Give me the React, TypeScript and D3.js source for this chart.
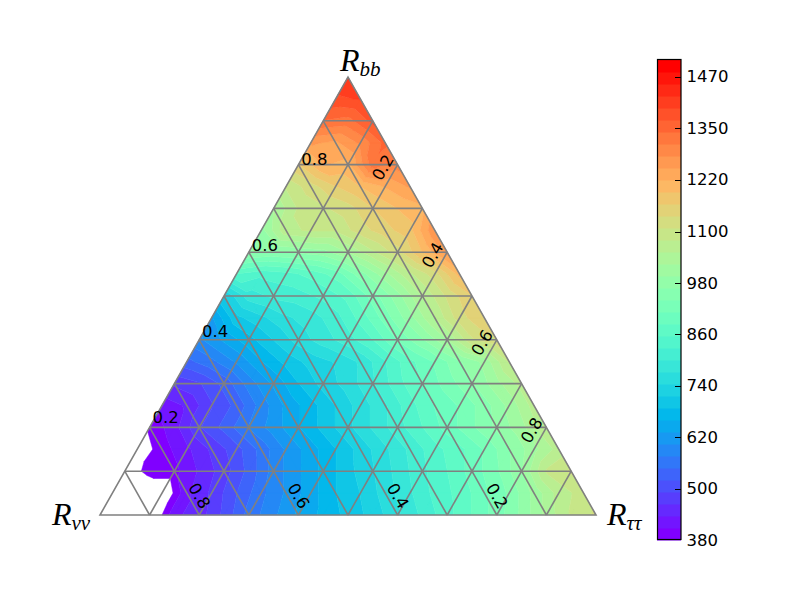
import React from "react";
import * as d3 from "d3";

// Values on the ternary grid, step 0.05 in Rbb. Each row runs from the Rnn corner side to the Rtt side.
const row00 = [280, 290, 330, 430, 450, 500, 560, 600, 640, 670, 700, 730, 770, 810, 850, 890, 930, 980, 1040, 1090, 1120];
const row01 = [300, 300, 340, 430, 470, 520, 570, 610, 650, 690, 720, 760, 800, 840, 870, 910, 950, 1010, 1070, 1100];
const row02 = [340, 400, 400, 440, 480, 530, 590, 630, 670, 710, 745, 785, 825, 860, 900, 940, 1000, 1090, 1120];
const row03 = [355, 395, 430, 470, 510, 560, 610, 650, 690, 730, 770, 810, 850, 880, 920, 970, 1020, 1070];
const row04 = [385, 425, 490, 530, 580, 620, 660, 700, 740, 780, 820, 860, 900, 940, 980, 1020, 1080];
const row05 = [420, 440, 490, 530, 590, 640, 680, 720, 760, 800, 850, 890, 920, 960, 1010, 1070];
const row06 = [470, 490, 530, 590, 640, 690, 730, 760, 800, 850, 890, 930, 970, 1020, 1070];
const row07 = [540, 570, 610, 660, 700, 730, 750, 780, 830, 880, 920, 970, 1010, 1090];
const row08 = [600, 640, 680, 720, 760, 790, 820, 860, 920, 970, 1030, 1110, 1140];
const row09 = [630, 710, 740, 770, 790, 820, 870, 930, 990, 1060, 1130, 1170];
const row10 = [720, 790, 810, 820, 840, 870, 930, 990, 1060, 1120, 1170];
const row11 = [860, 840, 850, 870, 900, 960, 1020, 1080, 1130, 1210];
const row12 = [980, 970, 980, 990, 1030, 1080, 1130, 1200, 1270];
const row13 = [990, 1080, 1090, 1090, 1130, 1160, 1190, 1280];
const row14 = [1030, 1090, 1110, 1130, 1170, 1200, 1220];
const row15 = [1090, 1130, 1170, 1200, 1230, 1260];
const row16 = [1170, 1230, 1220, 1330, 1300];
const row17 = [1260, 1250, 1290, 1350];
const row18 = [1340, 1330, 1380];
const row19 = [1390, 1400];
const row20 = [1430];
const rows = [row00, row01, row02, row03, row04, row05, row06, row07, row08, row09, row10, row11, row12, row13, row14, row15, row16, row17, row18, row19, row20];

const levelMin = 380;
const levelMax = 1510;
const bandCount = 40;
const gridFractions = [0.1, 0.2, 0.3, 0.4, 0.5, 0.6, 0.7, 0.8, 0.9];
const axisLabels = [0.2, 0.4, 0.6, 0.8];
const cbTickValues = [380, 501, 622, 743, 864, 985, 1106, 1228, 1349, 1470];
const cbTickLabels = ["380", "500", "620", "740", "860", "980", "1100", "1220", "1350", "1470"];

const rainbow = (t: number) => {
  const r = Math.min(1, Math.abs(2 * t - 0.5));
  const g = Math.sin(Math.PI * t);
  const b = Math.cos((Math.PI * t) / 2);
  return d3.rgb(r * 255, g * 255, b * 255).formatHex();
};

const xs = d3.scaleLinear().domain([0, 1]).range([100, 596]);
const ys = d3.scaleLinear().domain([0, 1]).range([515, 77]);
const cbY = d3.scaleLinear().domain([levelMin, levelMax]).range([540, 60]);
const px = (t: number, b: number) => xs(t + b / 2);
const py = (b: number) => ys(b);

type P = { t: number; b: number; v: number };
const node = (k: number, j: number): P => ({ t: j * 0.05, b: k * 0.05, v: rows[k][j] });

const tris: P[][] = [];
for (let k = 0; k < rows.length - 1; k++) {
  for (let j = 0; j < rows[k].length - 1; j++) {
    tris.push([node(k, j), node(k, j + 1), node(k + 1, j)]);
    if (j < rows[k].length - 2) tris.push([node(k, j + 1), node(k + 1, j + 1), node(k + 1, j)]);
  }
}

const clip = (poly: P[], level: number, keepAbove: boolean): P[] => {
  const out: P[] = [];
  const inside = (p: P) => (keepAbove ? p.v >= level : p.v <= level);
  poly.forEach((a, i) => {
    const c = poly[(i + 1) % poly.length];
    if (inside(a)) out.push(a);
    if (inside(a) !== inside(c)) {
      const f = (level - a.v) / (c.v - a.v);
      out.push({ t: a.t + f * (c.t - a.t), b: a.b + f * (c.b - a.b), v: level });
    }
  });
  return out;
};

const line = d3.line<P>().x((p) => px(p.t, p.b)).y((p) => py(p.b));
const step = (levelMax - levelMin) / bandCount;
const bands = d3.range(bandCount).map((i) => {
  const lo = levelMin + i * step;
  const hi = lo + step;
  const d = tris
    .map((tri) => clip(clip(tri, lo, true), hi, false))
    .filter((poly) => poly.length >= 3)
    .map((poly) => line(poly) + "Z")
    .join("");
  return { lo, hi, d, color: rainbow(i / (bandCount - 1)) };
});

const GRID = "#808080";
const tickFont = "'DejaVu Sans', sans-serif";
const mathFont = "'Liberation Serif', serif";

const MathLabel = ({ x, y, sub }: { x: number; y: number; sub: string }) => (
  <text x={x} y={y} fontFamily={mathFont} fontStyle="italic" fontSize={32} fill="#000">
    R
    <tspan fontSize={21} dy={5}>
      {sub}
    </tspan>
  </text>
);

export default function App() {
  const labelFmt = d3.format(".1f");
  return (
    <svg width={800} height={600} style={{ position: "absolute", left: 0, top: 0, background: "#fff" }}>
      {bands.map((band, i) => (
        <path key={i} d={band.d} fill={band.color} stroke={band.color} strokeWidth={0.5} />
      ))}
      <g stroke={GRID} strokeWidth={1.6} fill="none">
        {gridFractions.map((f) => (
          <g key={f}>
            <line x1={px(0, f)} y1={py(f)} x2={px(1 - f, f)} y2={py(f)} />
            <line x1={px(f, 0)} y1={py(0)} x2={px(f, 1 - f)} y2={py(1 - f)} />
            <line x1={px(1 - f, 0)} y1={py(0)} x2={px(0, 1 - f)} y2={py(1 - f)} />
          </g>
        ))}
        <path d={`M${px(0, 0)},${py(0)}L${px(1, 0)},${py(0)}L${px(0, 1)},${py(1)}Z`} strokeLinejoin="miter" />
      </g>
      <g fontFamily={tickFont} fontSize={16.5} fill="#000" textAnchor="middle" dominantBaseline="central">
        {axisLabels.map((v) => (
          <text key={"l" + v} x={px(0, v) + 16} y={py(v) - 11 + v * 7.5}>
            {labelFmt(v)}
          </text>
        ))}
        {axisLabels.map((v) => {
          const cx = px(1 - v, 0);
          const cy = py(0) - 19;
          return (
            <text key={"b" + v} x={cx} y={cy} transform={`rotate(60 ${cx} ${cy})`}>
              {labelFmt(v)}
            </text>
          );
        })}
        {axisLabels.map((v) => {
          const cx = px(v, 1 - v) - 14.5;
          const cy = py(1 - v) + 3;
          return (
            <text key={"r" + v} x={cx} y={cy} transform={`rotate(-60 ${cx} ${cy})`}>
              {labelFmt(v)}
            </text>
          );
        })}
      </g>
      <MathLabel x={340} y={71} sub="bb" />
      <MathLabel x={52} y={525} sub="νν" />
      <MathLabel x={607} y={525} sub="ττ" />
      <g>
        {bands.map((band, i) => (
          <rect
            key={i}
            x={657}
            width={24}
            y={cbY(band.hi)}
            height={cbY(band.lo) - cbY(band.hi) + 0.5}
            fill={band.color}
          />
        ))}
        <rect x={657.5} y={59.5} width={23.5} height={480} fill="none" stroke="#000" strokeWidth={1.2} />
        {cbTickValues.map((v, i) => (
          <g key={v}>
            {i > 0 && <line x1={675} x2={681} y1={Math.round(cbY(v)) + 0.5} y2={Math.round(cbY(v)) + 0.5} stroke="#000" />}
            <text x={686.5} y={cbY(v)} fontFamily={tickFont} fontSize={16.5} dominantBaseline="central" fill="#000">
              {cbTickLabels[i]}
            </text>
          </g>
        ))}
      </g>
    </svg>
  );
}
